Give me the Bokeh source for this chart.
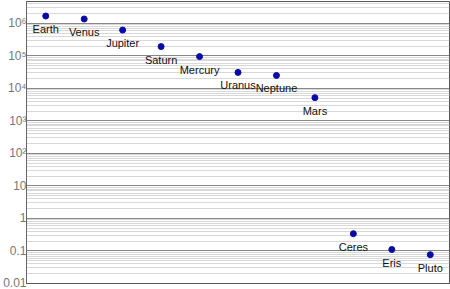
from bokeh.plotting import figure
from bokeh.models import ColumnDataSource, FactorRange, Range1d, FixedTicker
from bokeh.core.properties import value
from bokeh.embed import file_html
from bokeh.resources import INLINE

names = ["Earth", "Venus", "Jupiter", "Saturn", "Mercury", "Uranus", "Neptune", "Mars", "Ceres", "Eris", "Pluto"]
values = [1.68e6, 1.36e6, 6.2e5, 1.93e5, 9.5e4, 3.1e4, 2.5e4, 5.2e3, 0.34, 0.111, 0.077]

major_ticks = [0.01, 0.1, 1, 10, 100, 1e3, 1e4, 1e5, 1e6]
tick_labels = ["0.01", "0.1", "1", "10", "10²", "10³", "10⁴", "10⁵", "10⁶"]
minor_ticks = [k * d for d in [0.01, 0.1, 1, 10, 100, 1e3, 1e4, 1e5, 1e6] for k in range(2, 10)]

src = ColumnDataSource(dict(name=names, val=values))

p = figure(width=450, height=289, x_range=FactorRange(*names, range_padding=0),
           y_range=Range1d(0.01, 4.7e6), y_axis_type="log",
           output_backend="svg", toolbar_location=None,
           min_border_left=0, min_border_right=1, min_border_top=1, min_border_bottom=6)

p.xaxis.visible = False
p.xgrid.visible = False

p.yaxis.ticker = FixedTicker(ticks=major_ticks, minor_ticks=minor_ticks)
p.yaxis.major_label_overrides = {t: l for t, l in zip(major_ticks, tick_labels)}
p.yaxis.major_tick_line_color = None
p.yaxis.minor_tick_line_color = None
p.yaxis.axis_line_color = "#666666"
p.yaxis.major_label_text_color = "#777777"
p.yaxis.major_label_text_font = "Liberation Sans"
p.yaxis.major_label_text_font_size = "12px"
p.yaxis.major_label_standoff = 0
p.yaxis.axis_label_standoff = 0
p.yaxis.major_tick_out = 0
p.yaxis.major_tick_in = 0
p.yaxis.minor_tick_out = 0
p.yaxis.minor_tick_in = 0

p.ygrid.grid_line_color = "#888888"
p.ygrid.grid_line_width = 1
p.ygrid.minor_grid_line_color = "#d8d8d8"
p.ygrid.minor_grid_line_width = 1

p.outline_line_color = "#555555"
p.outline_line_width = 1

p.scatter(x="name", y="val", source=src, size=6, color="#0a0aa8")
p.text(x="name", y="val", text="name", source=src, text_align="center", text_baseline="top",
       y_offset=7, text_font=value("Liberation Sans"), text_font_size="11px", text_color="#111111")

open("out.html", "w").write(file_html(p, INLINE))
